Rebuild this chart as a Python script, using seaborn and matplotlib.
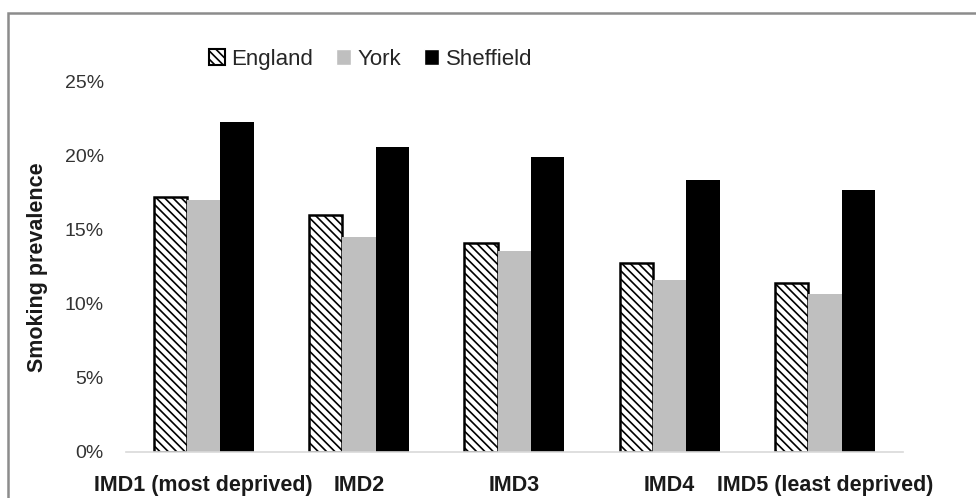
import pandas as pd
import matplotlib
matplotlib.use('Agg')
import matplotlib.pyplot as plt
from matplotlib.patches import Rectangle, Patch
from matplotlib.ticker import PercentFormatter
import seaborn as sns

groups = ['IMD1 (most deprived)', 'IMD2', 'IMD3', 'IMD4', 'IMD5 (least deprived)']
areas = ['England', 'York', 'Sheffield']
england = [0.172, 0.160, 0.141, 0.128, 0.114]
york = [0.170, 0.145, 0.136, 0.116, 0.107]
sheffield = [0.223, 0.206, 0.199, 0.184, 0.177]

data = pd.DataFrame({
    'group': groups * 3,
    'area': [a for a in areas for _ in groups],
    'prevalence': england + york + sheffield,
})

sns.set_style('white')
plt.rcParams['font.family'] = ['Liberation Sans', 'DejaVu Sans']
plt.rcParams['hatch.linewidth'] = 1.2

fig = plt.figure(figsize=(9.76, 4.98), dpi=100)
ax = fig.add_axes([0.129, 0.0924, 0.796, 0.743])

sns.barplot(data=data, x='group', y='prevalence', hue='area', order=groups,
            hue_order=areas, palette=['white', '#bfbfbf', 'black'],
            width=0.643, saturation=1, errorbar=None, ax=ax, legend=False)

# England bars: white with dense diagonal hatch
for bar in ax.containers[0]:
    bar.set_hatch('\\\\\\\\')
    bar.set_edgecolor('black')
    bar.set_linewidth(1.8)
for cont in ax.containers[1:]:
    for bar in cont:
        bar.set_linewidth(0)

ax.set_ylim(0, 0.25)
ax.set_xlim(-0.5, len(groups) - 0.5)
ax.yaxis.set_major_formatter(PercentFormatter(1.0, decimals=0))
ax.set_yticks([0, 0.05, 0.10, 0.15, 0.20, 0.25])
ax.tick_params(axis='y', length=0, pad=16, labelsize=14, colors='#333333')
ax.tick_params(axis='x', which='major', length=0, pad=16.5, labelsize=15.5)
for lbl in ax.get_xticklabels():
    lbl.set_fontweight('bold')
    lbl.set_color('#1a1a1a')
ax.set_xticks([i - 0.5 for i in range(len(groups) + 1)], minor=True)
ax.tick_params(axis='x', which='minor', length=8, width=1.2, color='#d9d9d9', direction='out')

for side in ['top', 'right', 'left']:
    ax.spines[side].set_visible(False)
ax.spines['bottom'].set_color('#d9d9d9')
ax.spines['bottom'].set_linewidth(1.2)

ax.set_xlabel('')
ax.set_ylabel('Smoking prevalence', fontsize=15.5, fontweight='bold', color='#1a1a1a')
ax.yaxis.set_label_coords(-0.100, 0.5)

handles = [Patch(facecolor='white', edgecolor='black', hatch='\\\\\\\\', linewidth=1.5),
           Patch(facecolor='#bfbfbf'), Patch(facecolor='black')]
fig.legend(handles, areas, loc='center', bbox_to_anchor=(0.38, 0.881), ncol=3,
           frameon=False, fontsize=16, handlelength=0.7, handleheight=0.7,
           handletextpad=0.3, columnspacing=1.0)

fig.patches.append(Rectangle((8 / 976, -0.1), 1.2, 1.1 - 13 / 498, transform=fig.transFigure,
                             fill=False, edgecolor='#8c8c8c', linewidth=1.8))

fig.savefig('out.png', dpi=100)
